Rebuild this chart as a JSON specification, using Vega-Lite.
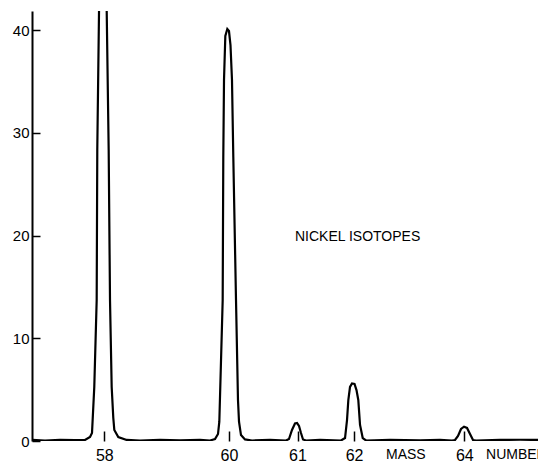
{
  "$schema": "https://vega.github.io/schema/vega-lite/v6.json",
  "width": 506,
  "height": 430,
  "autosize": {"type": "none"},
  "padding": {"left": 32, "top": 11, "right": 0, "bottom": 21},
  "background": "white",
  "config": {"view": {"stroke": null}, "font": "Liberation Sans"},
  "datasets": {
    "trace": [
      {"scan": 56.795, "v": 0.1}, {"scan": 57.012, "v": 0.05}, {"scan": 57.262, "v": 0.12}, {"scan": 57.512, "v": 0.08},
      {"scan": 57.678, "v": 0.1}, {"scan": 57.762, "v": 0.39}, {"scan": 57.795, "v": 0.78}, {"scan": 57.833, "v": 5.26},
      {"scan": 57.873, "v": 13.72}, {"scan": 57.883, "v": 28.32}, {"scan": 57.912, "v": 41.85}, {"scan": 57.978, "v": 100},
      {"scan": 58.04, "v": 41.85}, {"scan": 58.073, "v": 28.32}, {"scan": 58.095, "v": 13.72}, {"scan": 58.123, "v": 5.26},
      {"scan": 58.15, "v": 2.24}, {"scan": 58.167, "v": 1.07}, {"scan": 58.233, "v": 0.39}, {"scan": 58.373, "v": 0.1},
      {"scan": 58.595, "v": 0.05}, {"scan": 58.928, "v": 0.1}, {"scan": 59.262, "v": 0.06}, {"scan": 59.595, "v": 0.1},
      {"scan": 59.762, "v": 0.05}, {"scan": 59.845, "v": 0.19}, {"scan": 59.895, "v": 0.68}, {"scan": 59.917, "v": 1.88},
      {"scan": 59.973, "v": 13.72}, {"scan": 59.983, "v": 27.64}, {"scan": 59.995, "v": 35.13}, {"scan": 60.017, "v": 39.42},
      {"scan": 60.05, "v": 40.1}, {"scan": 60.078, "v": 39.9}, {"scan": 60.103, "v": 38.54}, {"scan": 60.128, "v": 35.13},
      {"scan": 60.15, "v": 27.64}, {"scan": 60.195, "v": 13.72}, {"scan": 60.228, "v": 3.99}, {"scan": 60.245, "v": 1.88},
      {"scan": 60.278, "v": 0.58}, {"scan": 60.345, "v": 0.15}, {"scan": 60.462, "v": 0.05}, {"scan": 60.762, "v": 0.1},
      {"scan": 61.028, "v": 0.05}, {"scan": 61.078, "v": 0.19}, {"scan": 61.128, "v": 1.07}, {"scan": 61.178, "v": 1.7},
      {"scan": 61.212, "v": 1.75}, {"scan": 61.245, "v": 1.46}, {"scan": 61.278, "v": 0.78}, {"scan": 61.312, "v": 0.15},
      {"scan": 61.362, "v": 0.05}, {"scan": 61.595, "v": 0.1}, {"scan": 61.945, "v": 0.05}, {"scan": 62.012, "v": 0.29},
      {"scan": 62.045, "v": 2.04}, {"scan": 62.067, "v": 3.99}, {"scan": 62.095, "v": 5.26}, {"scan": 62.128, "v": 5.6},
      {"scan": 62.17, "v": 5.55}, {"scan": 62.203, "v": 4.96}, {"scan": 62.233, "v": 3.99}, {"scan": 62.262, "v": 1.56},
      {"scan": 62.307, "v": 0.29}, {"scan": 62.362, "v": 0.05}, {"scan": 62.762, "v": 0.1}, {"scan": 63.262, "v": 0.06},
      {"scan": 63.595, "v": 0.12}, {"scan": 63.795, "v": 0.05}, {"scan": 63.845, "v": 0.1}, {"scan": 63.895, "v": 0.49},
      {"scan": 63.945, "v": 1.17}, {"scan": 63.995, "v": 1.39}, {"scan": 64.045, "v": 1.27}, {"scan": 64.095, "v": 0.68},
      {"scan": 64.145, "v": 0.1}, {"scan": 64.195, "v": 0.05}, {"scan": 64.595, "v": 0.1}, {"scan": 64.928, "v": 0.12},
      {"scan": 65.228, "v": 0.1}
    ],
    "notes": [
      {"text": "NICKEL ISOTOPES", "scan": 61.178, "v": 19.85},
      {"text": "MASS", "scan": 62.695, "v": -1.36},
      {"text": "NUMBER", "scan": 64.362, "v": -1.36}
    ]
  },
  "layer": [
    {
      "data": {"name": "trace"},
      "mark": {"type": "line", "color": "black", "strokeWidth": 2.2, "clip": true, "interpolate": "linear"},
      "encoding": {
        "x": {
          "field": "scan", "type": "quantitative",
          "scale": {"domain": [56.795, 65.228], "nice": false, "zero": false},
          "axis": {
            "values": [58, 60.078, 61.22, 62.162, 64],
            "labelExpr": "'' + round(datum.value)",
            "domain": false, "grid": false, "title": null,
            "tickSize": -10, "tickColor": "black", "tickWidth": 1.5,
            "labelPadding": 16, "labelFontSize": 16, "labelColor": "black",
            "labelFont": "Liberation Sans"
          }
        },
        "y": {
          "field": "v", "type": "quantitative",
          "scale": {"domain": [0, 41.85], "nice": false},
          "axis": {
            "values": [0, 10, 20, 30, 40],
            "domain": true, "domainColor": "black", "domainWidth": 2,
            "grid": false, "title": null,
            "tickSize": -8, "tickColor": "black", "tickWidth": 1.5,
            "labelPadding": 11, "labelFontSize": 15, "labelColor": "black",
            "labelFont": "Liberation Sans"
          }
        }
      }
    },
    {
      "mark": {"type": "rule", "color": "black", "strokeWidth": 1.5},
      "encoding": {"y": {"datum": 41.85}}
    },
    {
      "data": {"name": "notes"},
      "mark": {"type": "text", "align": "left", "baseline": "middle", "fontSize": 14, "color": "black", "font": "Liberation Sans"},
      "encoding": {
        "x": {"field": "scan", "type": "quantitative"},
        "y": {"field": "v", "type": "quantitative"},
        "text": {"field": "text"}
      }
    }
  ]
}
